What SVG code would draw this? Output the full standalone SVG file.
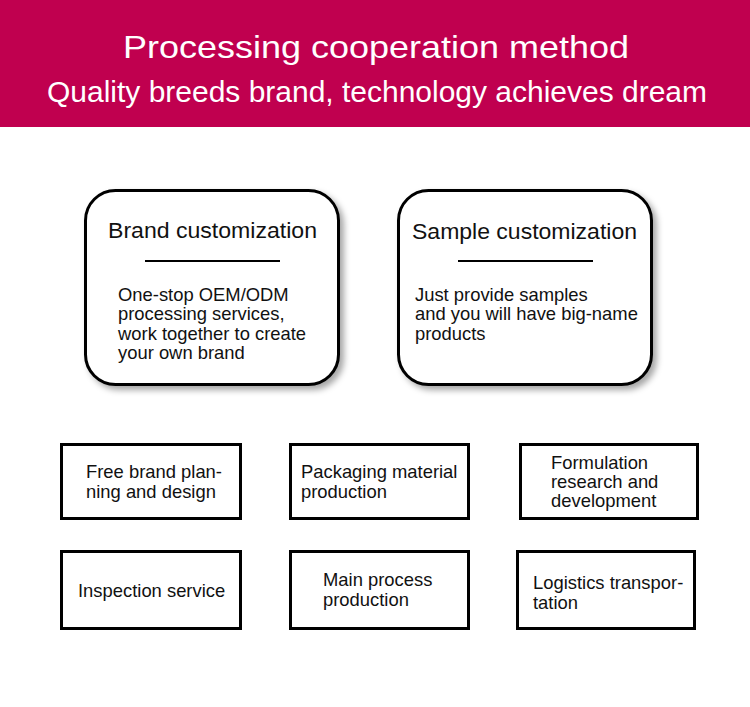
<svg xmlns="http://www.w3.org/2000/svg" width="750" height="707" viewBox="0 0 750 707">
<defs>
<style>
.hdr{fill:#fff;font-family:"Liberation Sans",Arial,sans-serif;text-anchor:middle}
.t{font-family:"Liberation Sans",Arial,sans-serif;fill:#111}
.big{font-size:22px}
.body{font-size:18.4px}
.sm{font-size:18.4px}
.rbox{fill:#fff;stroke:#000;stroke-width:3}
.box{fill:#fff;stroke:#000;stroke-width:3}
</style>
<filter id="sh" x="-10%" y="-10%" width="130%" height="130%">
<feDropShadow dx="4" dy="4" stdDeviation="3" flood-color="#000" flood-opacity="0.35"/>
</filter>
</defs>
<rect x="0" y="0" width="750" height="707" fill="#fff"/>
<g id="header">
<rect x="0" y="0" width="750" height="127" fill="#C0004F"/>
<text class="hdr" x="376" y="58" font-size="32" textLength="506" lengthAdjust="spacingAndGlyphs">Processing cooperation method</text>
<text class="hdr" x="377" y="102" font-size="29" textLength="660" lengthAdjust="spacingAndGlyphs">Quality breeds brand, technology achieves dream</text>
</g>
<g id="brand">
<rect class="rbox" x="85.5" y="190.5" width="253" height="194" rx="30" filter="url(#sh)"/>
<text class="t big" x="108" y="238" textLength="209" lengthAdjust="spacingAndGlyphs">Brand customization</text>
<line x1="145" y1="261" x2="280" y2="261" stroke="#000" stroke-width="2"/>
<text class="t body" x="118" y="301">One-stop OEM/ODM</text>
<text class="t body" x="118" y="320">processing services,</text>
<text class="t body" x="118" y="340">work together to create</text>
<text class="t body" x="118" y="359">your own brand</text>
</g>
<g id="sample">
<rect class="rbox" x="398.5" y="190.5" width="253" height="194" rx="30" filter="url(#sh)"/>
<text class="t big" x="412" y="239" textLength="225" lengthAdjust="spacingAndGlyphs">Sample customization</text>
<line x1="458" y1="261" x2="593" y2="261" stroke="#000" stroke-width="2"/>
<text class="t body" x="415" y="301">Just provide samples</text>
<text class="t body" x="415" y="320">and you will have big-name</text>
<text class="t body" x="415" y="340">products</text>
</g>
<g id="n1">
<rect class="box" x="61.5" y="444.5" width="179" height="74"/>
<text class="t sm" x="86" y="478">Free brand plan-</text>
<text class="t sm" x="86" y="498">ning and design</text>
</g>
<g id="n2">
<rect class="box" x="290.5" y="444.5" width="178" height="74"/>
<text class="t sm" x="301" y="478">Packaging material</text>
<text class="t sm" x="301" y="498">production</text>
</g>
<g id="n3">
<rect class="box" x="520.5" y="444.5" width="177" height="74"/>
<text class="t sm" x="551" y="469">Formulation</text>
<text class="t sm" x="551" y="488">research and</text>
<text class="t sm" x="551" y="507">development</text>
</g>
<g id="n4">
<rect class="box" x="61.5" y="551.5" width="179" height="77"/>
<text class="t sm" x="78" y="597">Inspection service</text>
</g>
<g id="n5">
<rect class="box" x="290.5" y="551.5" width="178" height="77"/>
<text class="t sm" x="323" y="586">Main process</text>
<text class="t sm" x="323" y="606">production</text>
</g>
<g id="n6">
<rect class="box" x="517.5" y="551.5" width="177" height="77"/>
<text class="t sm" x="533" y="589">Logistics transpor-</text>
<text class="t sm" x="533" y="609">tation</text>
</g>
<g id="connectors"/>
</svg>
